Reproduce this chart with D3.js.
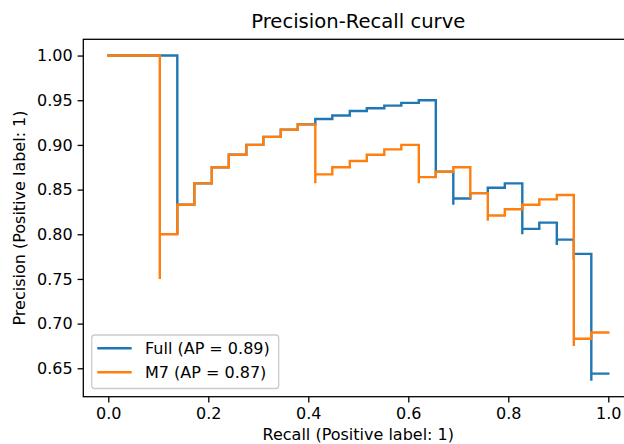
<!DOCTYPE html>
<html>
<head>
<meta charset="utf-8">
<script src="https://cdn.jsdelivr.net/npm/d3@7"></script>
<style>
  body { margin: 0; background: #fff; }
  svg { display: block; font-family: "DejaVu Sans", sans-serif; }
</style>
</head>
<body>
<div id="chart"></div>
<script>
// series names and AP scores
const seriesNames = ["Full", "M7"];
const apScores = [0.89, 0.87];

// Full model PR points (recall increasing)
const fullRecall = [0, 0.138, 0.138, 0.172, 0.207, 0.241, 0.276, 0.310, 0.345, 0.379, 0.414,
  0.448, 0.483, 0.517, 0.552, 0.586, 0.621, 0.655, 0.655, 0.690, 0.690, 0.724, 0.759,
  0.793, 0.828, 0.828, 0.862, 0.897, 0.897, 0.931, 0.931, 0.966, 0.966, 1.0];
const fullPrecision = [1, 1, 0.800, 0.833, 0.857, 0.875, 0.889, 0.900, 0.909, 0.917, 0.923,
  0.929, 0.933, 0.938, 0.941, 0.944, 0.947, 0.950, 0.864, 0.870, 0.833, 0.840, 0.846,
  0.852, 0.857, 0.800, 0.806, 0.813, 0.788, 0.794, 0.771, 0.778, 0.636, 0.644];

// M7 model PR points
const m7Recall = [0, 0.103, 0.103, 0.138, 0.172, 0.207, 0.241, 0.276, 0.310, 0.345, 0.379,
  0.414, 0.414, 0.448, 0.483, 0.517, 0.552, 0.586, 0.621, 0.621, 0.655, 0.690, 0.724,
  0.724, 0.759, 0.759, 0.793, 0.828, 0.862, 0.897, 0.931, 0.931, 0.966, 1.0];
const m7Precision = [1, 1, 0.750, 0.800, 0.833, 0.857, 0.875, 0.889, 0.900, 0.909, 0.917,
  0.923, 0.857, 0.867, 0.875, 0.882, 0.889, 0.895, 0.900, 0.857, 0.864, 0.870, 0.875,
  0.840, 0.846, 0.815, 0.821, 0.828, 0.833, 0.839, 0.844, 0.675, 0.683, 0.690];

const xTicks = [0, 0.2, 0.4, 0.6, 0.8, 1.0];
const yTicks = [0.65, 0.70, 0.75, 0.80, 0.85, 0.90, 0.95, 1.00];

const colors = ["#1f77b4", "#ff7f0e"];

function drawChart() {
    const W = 624, H = 444;
    // axes box (right edge runs past the picture, as in the original)
    const left = 83.3, top = 39.3, right = 633.3, bottom = 396.7;

    const svg = d3.select("#chart").append("svg")
        .attr("width", W)
        .attr("height", H);

    const x = d3.scaleLinear().domain([-0.05, 1.05]).range([left, right]);
    const y = d3.scaleLinear().domain([0.6182, 1.0182]).range([bottom, top]);

    const series = [
        { r: fullRecall, p: fullPrecision },
        { r: m7Recall, p: m7Precision }
    ];

    // sklearn draws steps-post on decreasing recall == step-before on increasing
    const line = d3.line()
        .x(d => x(d[0]))
        .y(d => y(d[1]))
        .curve(d3.curveStepBefore);

    series.forEach((s, i) => {
        svg.append("path")
            .datum(s.r.map((r, j) => [r, s.p[j]]))
            .attr("d", line)
            .attr("fill", "none")
            .attr("stroke", colors[i])
            .attr("stroke-width", 2.4)
            .attr("stroke-linejoin", "miter")
            .attr("stroke-linecap", "square");
    });

    // axes
    const xAxis = svg.append("g")
        .attr("transform", `translate(0,${bottom})`)
        .call(d3.axisBottom(x).tickValues(xTicks).tickFormat(d3.format(".1f"))
            .tickSizeInner(5.7).tickSizeOuter(0).tickPadding(5));
    const yAxis = svg.append("g")
        .attr("transform", `translate(${left},0)`)
        .call(d3.axisLeft(y).tickValues(yTicks).tickFormat(d3.format(".2f"))
            .tickSizeInner(5.7).tickSizeOuter(0).tickPadding(5));

    [xAxis, yAxis].forEach(g => {
        g.select(".domain").remove();
        g.selectAll("line").attr("stroke", "#000").attr("stroke-width", 1.3);
        g.selectAll("text").attr("fill", "#000")
            .style("font-size", "16px")
            .style("font-family", "'DejaVu Sans', sans-serif");
    });

    // spines
    svg.append("rect")
        .attr("x", left)
        .attr("y", top)
        .attr("width", right - left)
        .attr("height", bottom - top)
        .attr("fill", "none")
        .attr("stroke", "#000")
        .attr("stroke-width", 1.3);

    // title and labels
    svg.append("text")
        .attr("x", (left + right) / 2)
        .attr("y", 28)
        .attr("text-anchor", "middle")
        .style("font-size", "19.6px")
        .text("Precision-Recall curve");

    svg.append("text")
        .attr("x", (left + right) / 2)
        .attr("y", 439.5)
        .attr("text-anchor", "middle")
        .style("font-size", "16px")
        .text("Recall (Positive label: 1)");

    svg.append("text")
        .attr("transform", `translate(25,${(top + bottom) / 2}) rotate(-90)`)
        .attr("text-anchor", "middle")
        .style("font-size", "16px")
        .text("Precision (Positive label: 1)");

    // legend
    const legend = svg.append("g");
    legend.append("rect")
        .attr("x", 91.7)
        .attr("y", 335)
        .attr("width", 187)
        .attr("height", 53.5)
        .attr("rx", 3)
        .attr("fill", "rgba(255,255,255,0.8)")
        .attr("stroke", "#cccccc")
        .attr("stroke-width", 1.3);

    seriesNames.forEach((name, i) => {
        const ly = 348.3 + i * 24;
        legend.append("line")
            .attr("x1", 97.3).attr("x2", 131.7)
            .attr("y1", ly).attr("y2", ly)
            .attr("stroke", colors[i])
            .attr("stroke-width", 2.4);
        legend.append("text")
            .attr("x", 145)
            .attr("y", ly)
            .attr("dy", "0.36em")
            .style("font-size", "16px")
            .text(`${name} (AP = ${apScores[i].toFixed(2)})`);
    });
}

drawChart();
</script>
</body>
</html>
